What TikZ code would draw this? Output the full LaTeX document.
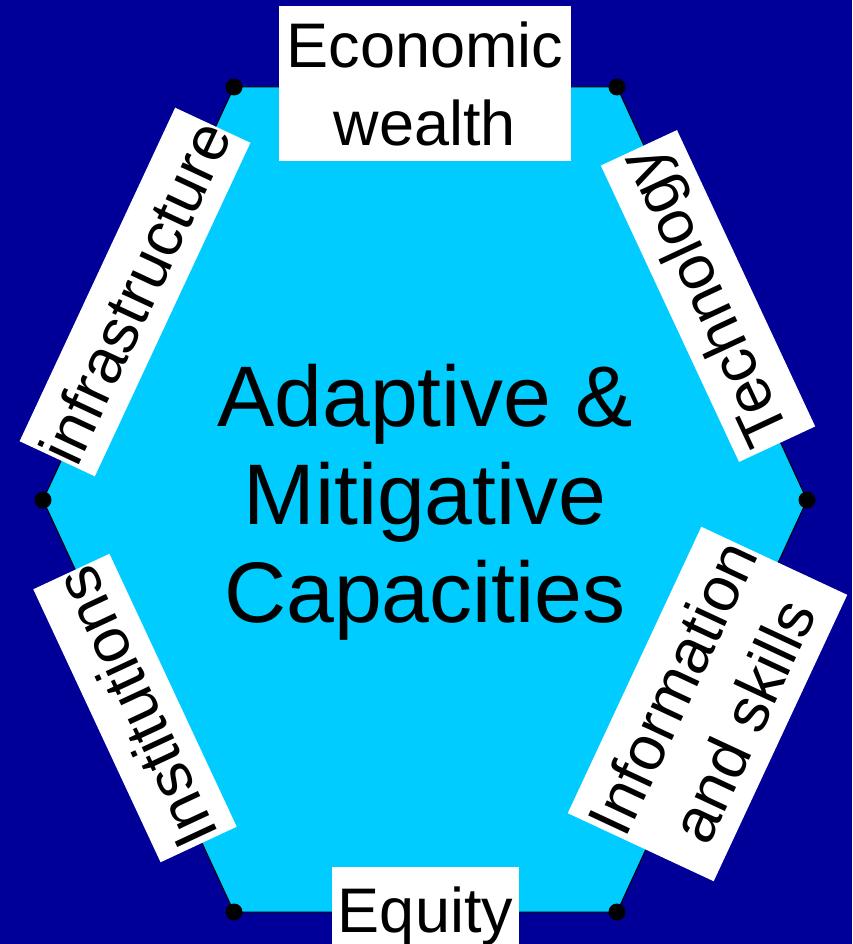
\documentclass[tikz,border=0pt]{standalone}
\usepackage{fontspec}
\setmainfont{Liberation Sans}
\definecolor{bgblue}{RGB}{0,0,153}
\definecolor{hexblue}{RGB}{0,204,255}
\begin{document}
\begin{tikzpicture}[x=1pt,y=-1pt,
  tagbox/.style={fill=white, inner sep=0pt, align=center, font=\fontsize{63}{78}\selectfont},
  vdot/.style={circle, fill=black, inner sep=0pt, minimum size=17pt}]
\fill[bgblue] (0,0) rectangle (852,944);
\useasboundingbox (0,0) rectangle (852,944);
\clip (0,0) rectangle (852,944);
\coordinate (v1) at (234,87);
\coordinate (v2) at (617,87);
\coordinate (v3) at (807,500);
\coordinate (v4) at (617,912);
\coordinate (v5) at (234,912);
\coordinate (v6) at (43,500);
\filldraw[fill=hexblue, draw=black, line width=1pt] (v1) -- (v2) -- (v3) -- (v4) -- (v5) -- (v6) -- cycle;
\foreach \v in {1,...,6} \node[vdot] (d\v) at (v\v) {};
\node[font=\fontsize{86}{98}\selectfont, align=center, inner sep=0pt] (core) at (425,502) {Adaptive \&\\Mitigative\\Capacities};
\node[tagbox, minimum width=292pt, minimum height=155pt] (econ) at (425,83.5) {Economic\\wealth};
\node[tagbox, rotate=115, minimum width=327pt, minimum height=84pt] (tech) at (708,296) {Technology};
\node[tagbox, rotate=65, minimum width=316pt, minimum height=161pt] (info) at (707.5,704) {Information\\and skills};
\node[tagbox, anchor=base, minimum width=187pt, inner ysep=19.5pt] (equity) at (425.5,932) {Equity};
\node[tagbox, rotate=115, minimum width=301pt, minimum height=84pt] (inst) at (135,708) {Institutions};
\node[tagbox, rotate=65, minimum width=368pt, minimum height=83pt] (infra) at (135,292) {infrastructure};
\end{tikzpicture}
\end{document}
